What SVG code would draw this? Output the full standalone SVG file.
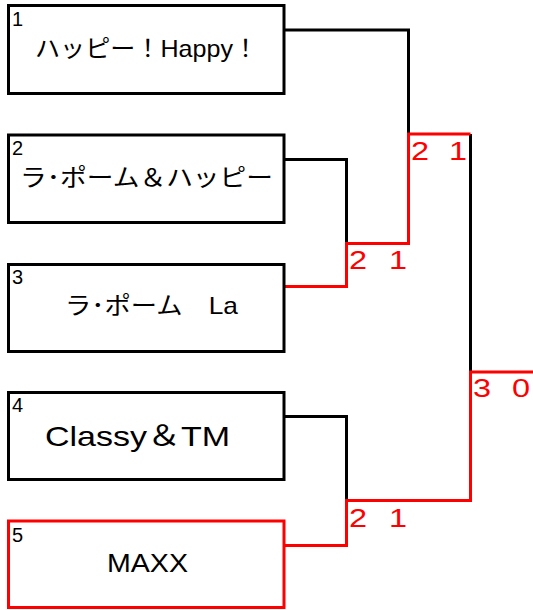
<svg xmlns="http://www.w3.org/2000/svg" width="533" height="610" viewBox="0 0 533 610">
<style>
.box{fill:#fff;stroke:#000;stroke-width:3}
.win{stroke:#f00}
.num{font-family:"Liberation Sans","Noto Sans CJK JP",sans-serif;font-size:20px;fill:#000}
.name{font-family:"Liberation Sans","Noto Sans CJK JP",sans-serif;font-size:24px;fill:#000}
.ln{fill:none;stroke:#000;stroke-width:3}
.rl{fill:none;stroke:#f00;stroke-width:3}
.sc{font-family:"Liberation Sans",sans-serif;font-size:26px;fill:#f00}
</style>
<rect width="533" height="610" fill="#fff"/>
<g id="connectors">
<path class="ln" d="M284,30 H408.5 V134"/>
<path class="ln" d="M284,159.5 H346.5 V243.5"/>
<path class="ln" d="M284,416.5 H346.5 V500.5"/>
<path class="ln" d="M470.5,134 V372"/>
<path class="rl" d="M284,286.5 H346.5 V243.5 H408.5 V134 H470.5"/>
<path class="rl" d="M284,545.5 H346.5 V500.5 H470.5 V372 H533"/>
</g>
<g id="node1">
<rect class="box" x="8.5" y="5.5" width="275.5" height="88"/>
<text class="num" x="12" y="26">1</text>
<text class="name" x="35" y="57" textLength="223" lengthAdjust="spacingAndGlyphs">ハッピー！Happy！</text>
</g>
<g id="node2">
<rect class="box" x="8.5" y="135" width="275.5" height="87.5"/>
<text class="num" x="12" y="155">2</text>
<text class="name" x="20" y="186" textLength="253" lengthAdjust="spacingAndGlyphs">ラ･ポーム＆ハッピー</text>
</g>
<g id="node3">
<rect class="box" x="8.5" y="264.5" width="275.5" height="87"/>
<text class="num" x="12" y="284">3</text>
<text class="name" x="65" y="314" textLength="173" lengthAdjust="spacingAndGlyphs">ラ･ポーム　La</text>
</g>
<g id="node4">
<rect class="box" x="8.5" y="392.5" width="275.5" height="87"/>
<text class="num" x="12" y="412">4</text>
<text class="name" x="45" y="446" style="font-size:28px" textLength="185" lengthAdjust="spacingAndGlyphs">Classy＆TM</text>
</g>
<g id="node5">
<rect class="box win" x="8.5" y="521" width="275.5" height="86.5"/>
<text class="num" x="12" y="542">5</text>
<text class="name" x="107" y="572" style="font-size:26px" textLength="81" lengthAdjust="spacingAndGlyphs">MAXX</text>
</g>
<g id="scores">
<text class="sc" transform="translate(411,160) scale(1.25,1)">2</text>
<text class="sc" transform="translate(449,160) scale(1.25,1)">1</text>
<text class="sc" transform="translate(349,269) scale(1.25,1)">2</text>
<text class="sc" transform="translate(389,269) scale(1.25,1)">1</text>
<text class="sc" transform="translate(473,397) scale(1.25,1)">3</text>
<text class="sc" transform="translate(512,397) scale(1.25,1)">0</text>
<text class="sc" transform="translate(349,527) scale(1.25,1)">2</text>
<text class="sc" transform="translate(389,527) scale(1.25,1)">1</text>
</g>
</svg>
